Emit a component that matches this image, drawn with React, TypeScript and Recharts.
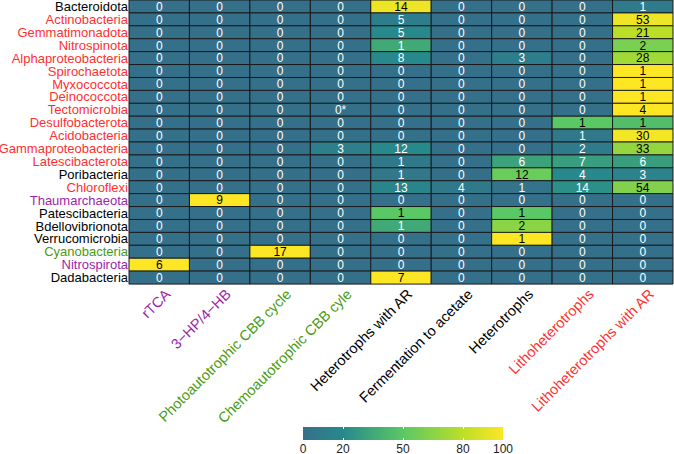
import React from 'react';
import { BarChart, Bar, XAxis, YAxis, Cell, LabelList } from 'recharts';

const PHYLA = [
  'Bacteroidota', 'Actinobacteria', 'Gemmatimonadota', 'Nitrospinota', 'Alphaproteobacteria',
  'Spirochaetota', 'Myxococcota', 'Deinococcota', 'Tectomicrobia', 'Desulfobacterota',
  'Acidobacteria', 'Gammaproteobacteria', 'Latescibacterota', 'Poribacteria', 'Chloroflexi',
  'Thaumarchaeota', 'Patescibacteria', 'Bdellovibrionota', 'Verrucomicrobia', 'Cyanobacteria',
  'Nitrospirota', 'Dadabacteria',
];
const PHYLA_GROUP = [
  'k', 'r', 'r', 'r', 'r', 'r', 'r', 'r', 'r', 'r', 'r', 'r', 'r', 'k', 'r',
  'p', 'k', 'k', 'k', 'g', 'p', 'k',
];

const STRATEGIES = [
  'rTCA', '3\u2212HP/4\u2212HB', 'Photoautotrophic CBB cycle', 'Chemoautotrophic CBB cyle',
  'Heterotrophs with AR', 'Fermentation to acetate', 'Heterotrophs', 'Lithoheterotrophs',
  'Lithoheterotrophs with AR',
];
const STRATEGY_GROUP = ['p', 'p', 'g', 'g', 'k', 'k', 'k', 'r', 'r'];

// genome counts shown in each cell
const COUNTS: (number | string)[][] = [
  [0, 0, 0, 0, 14, 0, 0, 0, 1],
  [0, 0, 0, 0, 5, 0, 0, 0, 53],
  [0, 0, 0, 0, 5, 0, 0, 0, 21],
  [0, 0, 0, 0, 1, 0, 0, 0, 2],
  [0, 0, 0, 0, 8, 0, 3, 0, 28],
  [0, 0, 0, 0, 0, 0, 0, 0, 1],
  [0, 0, 0, 0, 0, 0, 0, 0, 1],
  [0, 0, 0, 0, 0, 0, 0, 0, 1],
  [0, 0, 0, '0*', 0, 0, 0, 0, 4],
  [0, 0, 0, 0, 0, 0, 0, 1, 1],
  [0, 0, 0, 0, 0, 0, 0, 1, 30],
  [0, 0, 0, 3, 12, 0, 0, 2, 33],
  [0, 0, 0, 0, 1, 0, 6, 7, 6],
  [0, 0, 0, 0, 1, 0, 12, 4, 3],
  [0, 0, 0, 0, 13, 4, 1, 14, 54],
  [0, 9, 0, 0, 0, 0, 0, 0, 0],
  [0, 0, 0, 0, 1, 0, 1, 0, 0],
  [0, 0, 0, 0, 1, 0, 2, 0, 0],
  [0, 0, 0, 0, 0, 0, 1, 0, 0],
  [0, 0, 17, 0, 0, 0, 0, 0, 0],
  [6, 0, 0, 0, 0, 0, 0, 0, 0],
  [0, 0, 0, 0, 7, 0, 0, 0, 0],
];

// fill value (percent), estimated from the colours
const PERCENT: number[][] = [
  [0, 0, 0, 0, 95, 0, 0, 0, 8],
  [0, 0, 0, 0, 10, 0, 0, 0, 95],
  [0, 0, 0, 0, 20, 0, 0, 0, 80],
  [0, 0, 0, 0, 35, 0, 0, 0, 60],
  [0, 0, 0, 0, 20, 0, 10, 0, 72],
  [0, 0, 0, 0, 0, 0, 0, 0, 100],
  [0, 0, 0, 0, 0, 0, 0, 0, 100],
  [0, 0, 0, 0, 0, 0, 0, 0, 100],
  [0, 0, 0, 0, 0, 0, 0, 0, 100],
  [0, 0, 0, 0, 0, 0, 0, 50, 45],
  [0, 0, 0, 0, 0, 0, 0, 6, 97],
  [0, 0, 0, 12, 20, 0, 0, 8, 68],
  [0, 0, 0, 0, 7, 0, 32, 30, 30],
  [0, 0, 0, 0, 6, 0, 55, 20, 15],
  [0, 0, 0, 0, 17, 7, 3, 23, 62],
  [0, 100, 0, 0, 0, 0, 0, 0, 0],
  [0, 0, 0, 0, 50, 0, 50, 0, 0],
  [0, 0, 0, 0, 35, 0, 65, 0, 0],
  [0, 0, 0, 0, 0, 0, 100, 0, 0],
  [0, 0, 100, 0, 0, 0, 0, 0, 0],
  [100, 0, 0, 0, 0, 0, 0, 0, 0],
  [0, 0, 0, 0, 100, 0, 0, 0, 0],
];

const LEGEND_TICKS = [0, 20, 50, 80, 100];

const TEXT_COLORS: Record<string, string> = {
  k: '#000000',
  r: '#ff3030',
  p: '#9c1fa9',
  g: '#4a9a10',
};

const STOPS: [number, string][] = [
  [0, '#35708b'],
  [20, '#27898c'],
  [50, '#5ac864'],
  [80, '#bbdf27'],
  [100, '#fde725'],
];

const hex = (c: string) => [1, 3, 5].map((i) => parseInt(c.slice(i, i + 2), 16));

const shade = (v: number) => {
  for (let i = 1; i < STOPS.length; i++) {
    const [p1, c1] = STOPS[i];
    const [p0, c0] = STOPS[i - 1];
    if (v <= p1) {
      const t = (v - p0) / (p1 - p0);
      const a = hex(c0);
      const b = hex(c1);
      const m = a.map((x, k) => Math.round(x + (b[k] - x) * t));
      return `rgb(${m[0]},${m[1]},${m[2]})`;
    }
  }
  return STOPS[STOPS.length - 1][1];
};

const FONT = '"Liberation Sans", Arial, sans-serif';
const ONE = () => 1;

const data = PHYLA.map((name, i) => ({ name, row: i }));

const RowTick = (props: any) => {
  const { x, y, payload, index } = props;
  return (
    <text x={x} y={y} dy="0.36em" textAnchor="end" fontSize={13} fontFamily={FONT}
      fill={TEXT_COLORS[PHYLA_GROUP[index]]}>
      {payload.value}
    </text>
  );
};

const ColTick = (props: any) => {
  const { x, y, payload } = props;
  const i = Math.floor(payload.value);
  return (
    <g transform={`translate(${x + 5},${y - 4})`}>
      <text transform="rotate(-45)" textAnchor="end" dy="0.7em" fontSize={14.5} fontFamily={FONT}
        fill={TEXT_COLORS[STRATEGY_GROUP[i]]}>
        {STRATEGIES[i]}
      </text>
    </g>
  );
};

const cellLabel = (col: number) => (p: any) => {
  const row = p.index;
  const v = PERCENT[row][col];
  return (
    <text x={p.x + p.width / 2} y={p.y + p.height / 2} dy="0.36em" textAnchor="middle"
      fontSize={12} fontFamily={FONT} fill={v >= 40 ? '#000' : '#fff'}>
      {COUNTS[row][col]}
    </text>
  );
};

const ColorBar = () => (
  <div style={{ position: 'absolute', left: 303, top: 427, width: 200 }}>
    <div style={{
      height: 13,
      background: `linear-gradient(to right, ${STOPS.map(([p, c]) => `${c} ${p}%`).join(', ')})`,
      position: 'relative',
    }}>
      {LEGEND_TICKS.slice(1, -1).map((t) => (
        <div key={t} style={{ position: 'absolute', left: `${t}%`, top: 0, height: 13, width: 1 }}>
          <div style={{ position: 'absolute', top: 0, height: 2, width: 1, background: '#fff' }} />
          <div style={{ position: 'absolute', bottom: 0, height: 2, width: 1, background: '#fff' }} />
        </div>
      ))}
    </div>
    {LEGEND_TICKS.map((t) => (
      <div key={t} style={{
        position: 'absolute', left: `${t}%`, top: 15, transform: 'translateX(-50%)',
        fontSize: 12, fontFamily: FONT, color: '#222', lineHeight: '14px',
      }}>{t}</div>
    ))}
  </div>
);

export default function App() {
  return (
    <div style={{ position: 'absolute', left: 0, top: 0, width: 674, height: 454, background: '#fff' }}>
      <BarChart width={674} height={454} data={data} layout="vertical"
        margin={{ top: 0, right: 1, left: 0, bottom: 0 }} barCategoryGap={0} barGap={0}>
        <XAxis type="number" domain={[0, 9]} ticks={STRATEGIES.map((_, i) => i + 0.5)}
          height={170} axisLine={false} tickLine={false} tick={<ColTick />} interval={0} />
        <YAxis type="category" dataKey="name" width={129} axisLine={false} tickLine={false}
          tickSize={0} tickMargin={1} tick={<RowTick />} interval={0} />
        {STRATEGIES.map((s, col) => (
          <Bar key={s} dataKey={ONE} stackId="a" isAnimationActive={false}>
            {data.map((d) => (
              <Cell key={d.name} fill={shade(PERCENT[d.row][col])} stroke="#1a1a1a" strokeWidth={1} />
            ))}
            <LabelList content={cellLabel(col)} />
          </Bar>
        ))}
      </BarChart>
      <ColorBar />
    </div>
  );
}
